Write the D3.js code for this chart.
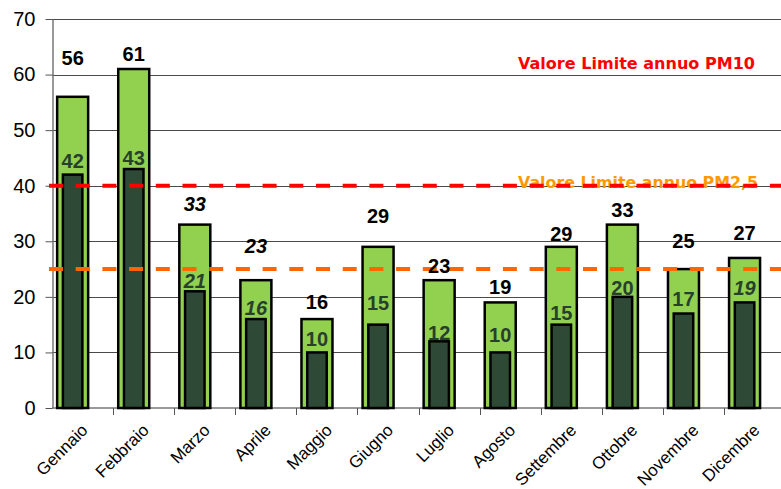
<!DOCTYPE html>
<html>
<head>
<meta charset="utf-8">
<script src="https://cdn.jsdelivr.net/npm/d3@7"></script>
<style>
  body { margin: 0; background: #fff; }
  svg { display: block; }
</style>
</head>
<body>
<div id="chart"></div>
<script>
// == data
const months = ["Gennaio", "Febbraio", "Marzo", "Aprile", "Maggio", "Giugno",
                "Luglio", "Agosto", "Settembre", "Ottobre", "Novembre", "Dicembre"];
const pm10 = [56, 61, 33, 23, 16, 29, 23, 19, 29, 33, 25, 27];
const pm25 = [42, 43, 21, 16, 10, 15, 12, 10, 15, 20, 17, 19];
const yTicks = [0, 10, 20, 30, 40, 50, 60, 70];
const limitValues = [40, 25];
const limitLabels = ["Valore Limite annuo PM10", "Valore Limite annuo PM2,5"];
// which value labels are set in italic
const pm10Italic = [false, false, true, true, false, false, false, false, false, false, false, false];
const pm25Italic = [false, false, true, true, false, false, false, false, false, false, false, true];

// label nudges (px above bar top), as placed by hand in the original
const pm10Lift = [39, 15, 21, 34, 17, 31, 14, 16, 13, 15, 28, 25];
const pm25Lift = [14, 11, 11, 11, 14, 22, 9, 18, 12, 9, 15, 15];

const WIDTH = 781, HEIGHT = 489;
const MARGIN = { TOP: 19, LEFT: 52, BOTTOM: 408, RIGHT: 785 };

const svg = d3.select("#chart").append("svg")
    .attr("width", WIDTH)
    .attr("height", HEIGHT);

const x = d3.scaleBand()
    .domain(months)
    .range([MARGIN.LEFT, MARGIN.RIGHT])
    .padding(0);

const y = d3.scaleLinear()
    .domain([0, 70])
    .range([MARGIN.BOTTOM, MARGIN.TOP]);

const bw = x.bandwidth();
const centre = m => x(m) + bw * 0.338;

// gridlines
svg.append("g")
  .selectAll("line")
  .data(yTicks.filter(d => d > 0))
  .join("line")
    .attr("x1", MARGIN.LEFT).attr("x2", WIDTH)
    .attr("y1", d => Math.round(y(d)) + 0.5)
    .attr("y2", d => Math.round(y(d)) + 0.5)
    .attr("stroke", "#4a4a4a")
    .attr("stroke-width", 1);

// y axis
const yAxis = svg.append("g")
    .attr("transform", `translate(${MARGIN.LEFT + 0.5},0)`)
    .call(d3.axisLeft(y).tickValues(yTicks).tickSize(7).tickPadding(10).tickSizeOuter(0));
yAxis.select(".domain").attr("stroke", "#777").attr("stroke-width", 1.5);
yAxis.selectAll(".tick line").attr("stroke", "#555");
yAxis.selectAll(".tick text")
    .attr("fill", "#000")
    .style("font", "20px 'Liberation Sans', Arial, sans-serif");

// x axis: line and ticks at band boundaries
svg.append("line")
    .attr("x1", MARGIN.LEFT).attr("x2", WIDTH)
    .attr("y1", y(0)).attr("y2", y(0))
    .attr("stroke", "#777").attr("stroke-width", 1.5);

svg.append("g")
  .selectAll("line")
  .data(months.slice(1))
  .join("line")
    .attr("x1", d => Math.round(x(d)) + 0.5).attr("x2", d => Math.round(x(d)) + 0.5)
    .attr("y1", y(0)).attr("y2", y(0) + 7)
    .attr("stroke", "#555");

svg.append("g")
  .selectAll("text")
  .data(months)
  .join("text")
    .attr("transform", d => `translate(${x(d) + bw / 2 + 2},${y(0) + 19}) rotate(-45)`)
    .attr("text-anchor", "end")
    .attr("dy", "0.35em")
    .style("font", "17px 'Liberation Sans', Arial, sans-serif")
    .attr("fill", "#000")
    .text(d => d);

// PM10 bars (light green)
svg.append("g")
  .selectAll("rect")
  .data(months)
  .join("rect")
    .attr("x", d => centre(d) - 15.5)
    .attr("width", 31)
    .attr("y", (d, i) => y(pm10[i]))
    .attr("height", (d, i) => y(0) - y(pm10[i]))
    .attr("fill", "#92d050")
    .attr("stroke", "#000")
    .attr("stroke-width", 2.5);

// PM2.5 bars (dark green)
svg.append("g")
  .selectAll("rect")
  .data(months)
  .join("rect")
    .attr("x", d => centre(d) - 9.75)
    .attr("width", 19.5)
    .attr("y", (d, i) => y(pm25[i]))
    .attr("height", (d, i) => y(0) - y(pm25[i]))
    .attr("fill", "#2e4a36")
    .attr("stroke", "#000")
    .attr("stroke-width", 2.5);

// limit labels (drawn below the dashed lines)
const limitColours = ["#ff0000", "#ff9900"];
const lineColours = ["#ff0000", "#ff6600"];
const limitLabelY = [69, 188];
svg.append("g")
  .selectAll("text")
  .data(limitLabels)
  .join("text")
    .attr("x", 518)
    .attr("y", (d, i) => limitLabelY[i])
    .attr("textLength", (d, i) => i === 0 ? 237 : 240)
    .attr("lengthAdjust", "spacingAndGlyphs")
    .style("font", "bold 15px 'DejaVu Sans', Verdana, sans-serif")
    .attr("fill", (d, i) => limitColours[i])
    .text(d => d);

// limit lines
svg.append("g")
  .selectAll("line")
  .data(limitValues)
  .join("line")
    .attr("x1", 49).attr("x2", WIDTH)
    .attr("y1", d => y(d)).attr("y2", d => y(d))
    .attr("stroke", (d, i) => lineColours[i])
    .attr("stroke-width", 4)
    .attr("stroke-dasharray", "14 12.7");

// value labels
svg.append("g")
  .selectAll("text")
  .data(months)
  .join("text")
    .attr("x", d => centre(d))
    .attr("y", (d, i) => y(pm10[i]) - pm10Lift[i])
    .attr("dy", "0.36em")
    .attr("text-anchor", "middle")
    .style("font", (d, i) => `${pm10Italic[i] ? "italic " : ""}bold 20px 'Liberation Sans', Arial, sans-serif`)
    .attr("fill", "#000")
    .text((d, i) => pm10[i]);

svg.append("g")
  .selectAll("text")
  .data(months)
  .join("text")
    .attr("x", d => centre(d))
    .attr("y", (d, i) => y(pm25[i]) - pm25Lift[i])
    .attr("dy", "0.36em")
    .attr("text-anchor", "middle")
    .style("font", (d, i) => `${pm25Italic[i] ? "italic " : ""}bold 20px 'Liberation Sans', Arial, sans-serif`)
    .attr("fill", "#26402d")
    .text((d, i) => pm25[i]);
</script>
</body>
</html>
